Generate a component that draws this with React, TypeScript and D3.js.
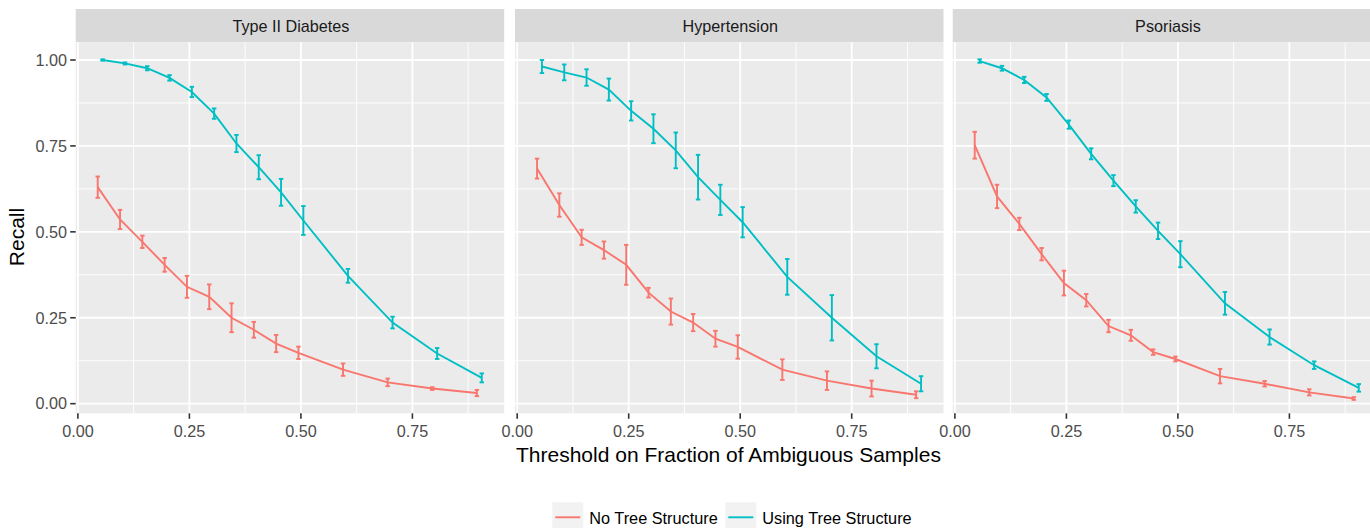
import React from "react";
import * as d3 from "d3";

const thresholds = [0.05, 0.1, 0.15, 0.2, 0.25, 0.3, 0.35, 0.4, 0.45, 0.5, 0.6, 0.7, 0.8, 0.9];
const panelNames = ["Type II Diabetes", "Hypertension", "Psoriasis"];
const seriesNames = ["No Tree Structure", "Using Tree Structure"];
const seriesColors = ["#F8766D", "#00BFC4"];
const xTicks = [0, 0.25, 0.5, 0.75];
const xTickLabels = ["0.00", "0.25", "0.50", "0.75"];
const yTicks = [0, 0.25, 0.5, 0.75, 1];
const yTickLabels = ["0.00", "0.25", "0.50", "0.75", "1.00"];
const xMinor = [0.125, 0.375, 0.625, 0.875];
const yMinor = [0.125, 0.375, 0.625, 0.875];

// Type II Diabetes
const diabetesNoTree = [0.63, 0.536, 0.471, 0.404, 0.34, 0.311, 0.25, 0.215, 0.175, 0.148, 0.099, 0.062, 0.044, 0.031];
const diabetesNoTreeErr = [0.031, 0.028, 0.018, 0.02, 0.032, 0.036, 0.042, 0.023, 0.025, 0.018, 0.018, 0.011, 0.004, 0.009];
const diabetesTree = [1.0, 0.99, 0.976, 0.948, 0.907, 0.844, 0.757, 0.688, 0.615, 0.533, 0.372, 0.236, 0.146, 0.075];
const diabetesTreeErr = [0.002, 0.003, 0.006, 0.008, 0.015, 0.015, 0.025, 0.035, 0.039, 0.042, 0.02, 0.017, 0.016, 0.013];

// Hypertension
const hyperNoTree = [0.684, 0.578, 0.484, 0.447, 0.404, 0.323, 0.268, 0.236, 0.189, 0.165, 0.099, 0.067, 0.044, 0.026];
const hyperNoTreeErr = [0.029, 0.034, 0.022, 0.025, 0.058, 0.014, 0.038, 0.025, 0.023, 0.034, 0.03, 0.027, 0.023, 0.01];
const hyperTree = [0.981, 0.964, 0.949, 0.914, 0.852, 0.8, 0.737, 0.659, 0.593, 0.528, 0.369, 0.25, 0.138, 0.058];
const hyperTreeErr = [0.019, 0.023, 0.024, 0.032, 0.028, 0.042, 0.052, 0.065, 0.044, 0.044, 0.052, 0.066, 0.035, 0.022];

// Psoriasis
const psoNoTree = [0.752, 0.603, 0.523, 0.435, 0.351, 0.301, 0.226, 0.199, 0.15, 0.13, 0.08, 0.058, 0.033, 0.015];
const psoNoTreeErr = [0.039, 0.034, 0.018, 0.018, 0.036, 0.018, 0.018, 0.016, 0.008, 0.007, 0.021, 0.008, 0.009, 0.004];
const psoTree = [0.997, 0.976, 0.942, 0.891, 0.812, 0.727, 0.649, 0.574, 0.503, 0.435, 0.292, 0.194, 0.112, 0.046];
const psoTreeErr = [0.005, 0.007, 0.009, 0.01, 0.012, 0.016, 0.016, 0.018, 0.024, 0.038, 0.033, 0.022, 0.011, 0.011];

const panelData = [
  [
    { mean: diabetesNoTree, err: diabetesNoTreeErr },
    { mean: diabetesTree, err: diabetesTreeErr },
  ],
  [
    { mean: hyperNoTree, err: hyperNoTreeErr },
    { mean: hyperTree, err: hyperTreeErr },
  ],
  [
    { mean: psoNoTree, err: psoNoTreeErr },
    { mean: psoTree, err: psoTreeErr },
  ],
];

const W = 1370;
const H = 528;
const panelLefts = [75.7, 515, 952.7];
const panelW = 428.5;
const stripTop = 9;
const panelTop = 42.3;
const panelBottom = 413.3;
const dodge = 0.0055;
const capHalf = 0.005;
const FONT = "'Liberation Sans', Arial, Helvetica, sans-serif";

export default function App() {
  const y = d3.scaleLinear().domain([-0.028, 1.0515]).range([panelBottom, panelTop]);
  const line = d3.line<[number, number]>();

  return (
    <svg
      width={W}
      height={H}
      style={{ position: "absolute", left: 0, top: 0, background: "#ffffff" }}
      fontFamily={FONT}
    >
      <rect x={0} y={0} width={W} height={H} fill="#ffffff" />
      {panelNames.map((name, pi) => {
        const left = panelLefts[pi];
        const x = d3
          .scaleLinear()
          .domain([-0.0049, 0.9558])
          .range([left, left + panelW]);
        return (
          <g key={name}>
            <rect x={left} y={stripTop} width={panelW} height={panelTop - stripTop} fill="#D9D9D9" />
            <text
              x={left + panelW / 2 + 1}
              y={(stripTop + panelTop) / 2 + 5.9}
              textAnchor="middle"
              fontSize={16.2}
              fill="#1A1A1A"
            >
              {name}
            </text>
            <rect x={left} y={panelTop} width={panelW} height={panelBottom - panelTop} fill="#EBEBEB" />
            {xMinor.map((v) => (
              <line key={"xm" + v} x1={x(v)} x2={x(v)} y1={panelTop} y2={panelBottom} stroke="#ffffff" strokeWidth={0.9} />
            ))}
            {yMinor.map((v) => (
              <line key={"ym" + v} x1={left} x2={left + panelW} y1={y(v)} y2={y(v)} stroke="#ffffff" strokeWidth={0.9} />
            ))}
            {xTicks.map((v) => (
              <line key={"xM" + v} x1={x(v)} x2={x(v)} y1={panelTop} y2={panelBottom} stroke="#ffffff" strokeWidth={1.8} />
            ))}
            {yTicks.map((v) => (
              <line key={"yM" + v} x1={left} x2={left + panelW} y1={y(v)} y2={y(v)} stroke="#ffffff" strokeWidth={1.8} />
            ))}
            {panelData[pi].map((s, si) => {
              const off = si === 0 ? -dodge : dodge;
              const pts: [number, number][] = thresholds.map((t, i) => [x(t + off), y(s.mean[i])]);
              return (
                <g key={si} stroke={seriesColors[si]} fill="none" strokeWidth={1.9}>
                  <path d={line(pts) || ""} />
                  {thresholds.map((t, i) => {
                    const cx = x(t + off);
                    const x0 = x(t + off - capHalf);
                    const x1 = x(t + off + capHalf);
                    const yt = y(s.mean[i] + s.err[i]);
                    const yb = y(s.mean[i] - s.err[i]);
                    return (
                      <g key={i}>
                        <line x1={cx} x2={cx} y1={yt} y2={yb} />
                        <line x1={x0} x2={x1} y1={yt} y2={yt} />
                        <line x1={x0} x2={x1} y1={yb} y2={yb} />
                      </g>
                    );
                  })}
                </g>
              );
            })}
            {xTicks.map((v, i) => (
              <g key={"xt" + v}>
                <line x1={x(v)} x2={x(v)} y1={panelBottom} y2={panelBottom + 5.5} stroke="#333333" strokeWidth={1.6} />
                <text x={x(v)} y={437} textAnchor="middle" fontSize={16.2} fill="#4D4D4D">
                  {xTickLabels[i]}
                </text>
              </g>
            ))}
          </g>
        );
      })}
      {yTicks.map((v, i) => (
        <g key={"yt" + v}>
          <line x1={panelLefts[0] - 5.5} x2={panelLefts[0]} y1={y(v)} y2={y(v)} stroke="#333333" strokeWidth={1.6} />
          <text x={67} y={y(v) + 5.8} textAnchor="end" fontSize={16.2} fill="#4D4D4D">
            {yTickLabels[i]}
          </text>
        </g>
      ))}
      <text
        x={(panelLefts[0] + panelLefts[2] + panelW) / 2}
        y={462}
        textAnchor="middle"
        fontSize={21}
        fill="#000000"
      >
        Threshold on Fraction of Ambiguous Samples
      </text>
      <text
        transform={`translate(24, 237) rotate(-90)`}
        textAnchor="middle"
        fontSize={21}
        fill="#000000"
      >
        Recall
      </text>
      {/* legend */}
      {seriesNames.map((n, i) => {
        const kx = i === 0 ? 552.3 : 725.3;
        return (
          <g key={n}>
            <rect x={kx} y={502.3} width={31} height={30} fill="#F2F2F2" />
            <line x1={kx + 3} x2={kx + 28} y1={517.3} y2={517.3} stroke={seriesColors[i]} strokeWidth={1.9} />
            <text x={kx + 37} y={524} fontSize={16.3} fill="#000000">
              {n}
            </text>
          </g>
        );
      })}
    </svg>
  );
}
